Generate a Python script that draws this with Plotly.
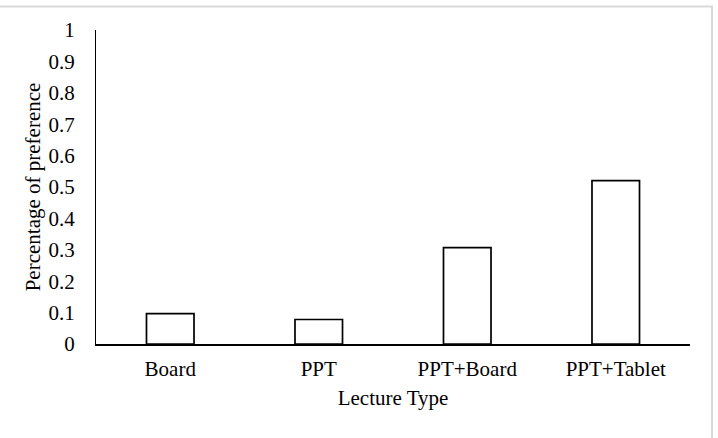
import plotly.graph_objects as go

categories = ["Board", "PPT", "PPT+Board", "PPT+Tablet"]
values = [0.097, 0.078, 0.307, 0.520]
y_ticks = [0, 0.1, 0.2, 0.3, 0.4, 0.5, 0.6, 0.7, 0.8, 0.9, 1]
y_tick_labels = ["0", "0.1", "0.2", "0.3", "0.4", "0.5", "0.6", "0.7", "0.8", "0.9", "1"]

FONT = "Liberation Serif"
FS = 21

fig = go.Figure(
    go.Bar(
        x=categories,
        y=values,
        marker=dict(color="white", line=dict(color="black", width=1.7)),
        width=0.32,
    )
)

fig.update_layout(
    width=718,
    height=438,
    margin=dict(l=96, r=28, t=30, b=94),
    paper_bgcolor="white",
    plot_bgcolor="white",
    font=dict(family=FONT, size=FS, color="black"),
    showlegend=False,
    shapes=[
        dict(
            type="rect", xref="paper", yref="paper",
            x0=-0.2, x1=1.037, y0=-0.35, y1=1.0748,
            line=dict(color="#d9d9d9", width=2), fillcolor="rgba(0,0,0,0)",
            layer="below",
        )
    ],
)

fig.update_xaxes(
    showline=True, linecolor="black", linewidth=1.7,
    showgrid=False, ticks="", ticklabelstandoff=5,
    title=dict(text="Lecture Type", standoff=10, font=dict(family=FONT, size=FS)),
    tickfont=dict(family=FONT, size=FS),
)
fig.update_yaxes(
    range=[0, 1], tickvals=y_ticks, ticktext=y_tick_labels,
    showline=True, linecolor="black", linewidth=1,
    showgrid=False, zeroline=False, ticks="", ticklabelstandoff=16,
    title=dict(text="Percentage of preference", standoff=2, font=dict(family=FONT, size=FS)),
    tickfont=dict(family=FONT, size=FS),
)

fig.write_html("out.html")
